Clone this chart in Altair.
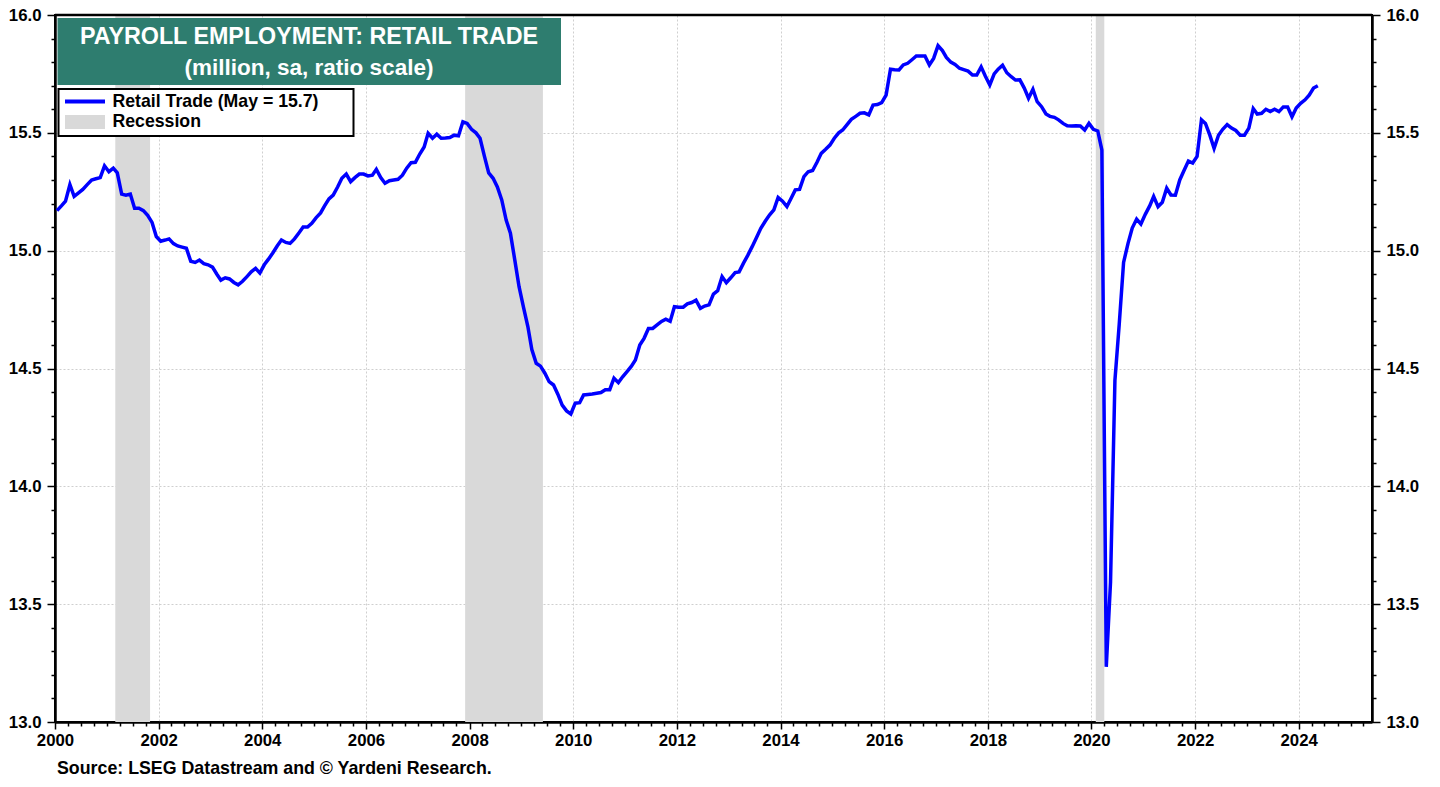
import altair as alt
import pandas as pd

# Retail trade payroll employment, million, monthly from Jan 2000 to May 2024
retail_2000_2004 = [
    15.17, 15.19, 15.21, 15.28, 15.23, 15.245, 15.26, 15.28, 15.30, 15.305, 15.31, 15.36,
    15.335, 15.35, 15.33, 15.24, 15.235, 15.24, 15.18, 15.18, 15.17, 15.15, 15.12, 15.06,
    15.04, 15.045, 15.05, 15.03, 15.02, 15.015, 15.01, 14.955, 14.95, 14.96, 14.945, 14.94,
    14.93, 14.90, 14.875, 14.885, 14.88, 14.865, 14.855, 14.87, 14.89, 14.91, 14.925, 14.905,
    14.94, 14.965, 14.99, 15.02, 15.045, 15.035, 15.031, 15.05, 15.075, 15.10, 15.10, 15.116,
]
retail_2005_2009 = [
    15.14, 15.16, 15.19, 15.22, 15.236, 15.27, 15.307, 15.325, 15.293, 15.31, 15.325, 15.325,
    15.317, 15.32, 15.345, 15.31, 15.286, 15.297, 15.30, 15.303, 15.32, 15.35, 15.373, 15.375,
    15.41, 15.44, 15.498, 15.477, 15.494, 15.477, 15.478, 15.48, 15.49, 15.487, 15.547, 15.54,
    15.515, 15.50, 15.477, 15.40, 15.33, 15.307, 15.27, 15.215, 15.13, 15.074, 14.96, 14.847,
    14.76, 14.678, 14.58, 14.522, 14.51, 14.48, 14.444, 14.43, 14.39, 14.345, 14.32, 14.307,
]
retail_2010_2014 = [
    14.353, 14.355, 14.388, 14.39, 14.392, 14.395, 14.398, 14.41, 14.41, 14.459, 14.44, 14.465,
    14.487, 14.51, 14.536, 14.60, 14.628, 14.67, 14.67, 14.685, 14.70, 14.709, 14.70, 14.762,
    14.76, 14.76, 14.774, 14.78, 14.79, 14.755, 14.765, 14.77, 14.816, 14.83, 14.89, 14.864,
    14.885, 14.907, 14.91, 14.947, 14.98, 15.017, 15.055, 15.095, 15.125, 15.151, 15.173, 15.226,
    15.21, 15.187, 15.22, 15.258, 15.26, 15.314, 15.335, 15.34, 15.375, 15.413, 15.43, 15.448,
]
retail_2015_2019 = [
    15.477, 15.50, 15.512, 15.535, 15.557, 15.57, 15.583, 15.585, 15.576, 15.618, 15.62, 15.628,
    15.66, 15.77, 15.768, 15.767, 15.788, 15.795, 15.81, 15.826, 15.826, 15.826, 15.788, 15.816,
    15.87, 15.849, 15.82, 15.80, 15.79, 15.774, 15.768, 15.762, 15.745, 15.745, 15.78, 15.74,
    15.703, 15.75, 15.77, 15.787, 15.755, 15.738, 15.724, 15.725, 15.69, 15.647, 15.685, 15.632,
    15.611, 15.58, 15.57, 15.566, 15.555, 15.54, 15.53, 15.529, 15.53, 15.529, 15.512, 15.54,
]
retail_2020_2024 = [
    15.515, 15.508, 15.427, 13.234, 13.594, 14.45, 14.685, 14.95, 15.03, 15.096, 15.134, 15.113,
    15.154, 15.19, 15.23, 15.187, 15.205, 15.265, 15.236, 15.235, 15.30, 15.34, 15.38, 15.372,
    15.40, 15.555, 15.54, 15.49, 15.434, 15.49, 15.515, 15.535, 15.52, 15.51, 15.49, 15.49,
    15.52, 15.603, 15.58, 15.583, 15.60, 15.59, 15.60, 15.59, 15.61, 15.61, 15.568, 15.605,
    15.625, 15.64, 15.66, 15.69, 15.70,
]

recession_start = ["2001-03-01", "2007-12-01", "2020-02-01"]
recession_end = ["2001-11-01", "2009-06-01", "2020-04-01"]

title_lines = ["PAYROLL EMPLOYMENT: RETAIL TRADE", "(million, sa, ratio scale)"]
legend_labels = ["Retail Trade (May = 15.7)", "Recession"]
source_text = "Source: LSEG Datastream and \u00a9 Yardeni Research."

values = retail_2000_2004 + retail_2005_2009 + retail_2010_2014 + retail_2015_2019 + retail_2020_2024
dates = pd.date_range("2000-01-01", periods=len(values), freq="MS") + pd.Timedelta(days=14)
df = pd.DataFrame({"date": dates.strftime("%Y-%m-%dT00:00:00"), "value": values})
rec = pd.DataFrame({
    "start": [s + "T00:00:00" for s in recession_start],
    "end": [e + "T00:00:00" for e in recession_end],
})

FONT = "Liberation Sans"
BLUE = "#0000ff"
GRAY = "#d9d9d9"
TEAL = "#2e7d6f"
W, H = 1317, 707

x_ticks = [alt.DateTime(year=y, month=m, date=1)
           for y in range(2000, 2026) for m in (1, 4, 7, 10) if (y, m) <= (2025, 4)]
major_x = "month(datum.value) == 0 && year(datum.value) % 2 == 0"
x_scale = alt.Scale(domain=[alt.DateTime(year=2000, month=1, date=1),
                            alt.DateTime(year=2025, month=6, date=1)])
x_axis = alt.Axis(
    values=x_ticks, title=None,
    labelExpr=f"({major_x}) ? timeFormat(datum.value, '%Y') : ''",
    tickSize={"condition": {"test": major_x, "value": 7}, "value": 4},
    gridOpacity={"condition": {"test": major_x + " && year(datum.value) > 2000", "value": 1}, "value": 0},
    labelFlush=False, labelOverlap=False, labelPadding=3,
)

y_ticks = [round(13 + 0.1 * i, 1) for i in range(31)]
major_y = "abs(round(datum.value * 10) % 5) < 0.5"
y_scale = alt.Scale(domain=[13, 16], nice=False, zero=False)


def y_axis(orient, grid):
    return alt.Axis(
        values=y_ticks, title=None, orient=orient, grid=grid,
        labelExpr=f"({major_y}) ? format(datum.value, '.1f') : ''",
        tickSize={"condition": {"test": major_y, "value": 8}, "value": 4},
        gridOpacity={"condition": {"test": major_y + " && datum.value > 13.05 && datum.value < 15.95",
                                   "value": 1}, "value": 0},
        labelFlush=False, labelOverlap=False, labelPadding=6,
    )


recession = alt.Chart(rec).mark_rect(color=GRAY).encode(
    x=alt.X("start:T", scale=x_scale, axis=x_axis),
    x2="end:T",
)

line = alt.Chart(df).mark_line(color=BLUE, strokeWidth=3.5).encode(
    x=alt.X("date:T", scale=x_scale, axis=x_axis),
    y=alt.Y("value:Q", scale=y_scale, axis=y_axis("left", True)),
)

line_right = alt.Chart(df).mark_line(strokeOpacity=0).encode(
    x=alt.X("date:T", scale=x_scale, axis=x_axis),
    y=alt.Y("value:Q", scale=y_scale, axis=y_axis("right", False)),
)

one = pd.DataFrame({"k": [0]})

top_border = alt.Chart(one).mark_rule(color="black", strokeWidth=2.5).encode(
    x=alt.value(0), x2=alt.value(W), y=alt.value(0)
)

title_box = alt.Chart(one).mark_rect(color=TEAL).encode(
    x=alt.value(2.5), x2=alt.value(506), y=alt.value(3), y2=alt.value(70)
)
title_1 = alt.Chart(pd.DataFrame({"t": [title_lines[0]]})).mark_text(
    font=FONT, fontWeight="bold", fontSize=23.3, color="white", align="center", baseline="middle"
).encode(x=alt.value(254), y=alt.value(21.7), text="t:N")
title_2 = alt.Chart(pd.DataFrame({"t": [title_lines[1]]})).mark_text(
    font=FONT, fontWeight="bold", fontSize=22.5, color="white", align="center", baseline="middle"
).encode(x=alt.value(254), y=alt.value(53.3), text="t:N")

legend_box = alt.Chart(one).mark_rect(fill="white", stroke="black", strokeWidth=2).encode(
    x=alt.value(3.5), x2=alt.value(298.5), y=alt.value(74), y2=alt.value(121)
)
legend_line = alt.Chart(one).mark_rule(color=BLUE, strokeWidth=4).encode(
    x=alt.value(10), x2=alt.value(50), y=alt.value(86.5)
)
legend_patch = alt.Chart(one).mark_rect(color=GRAY).encode(
    x=alt.value(10), x2=alt.value(50), y=alt.value(100), y2=alt.value(114)
)
legend_df = pd.DataFrame({"t": legend_labels, "yy": [86.5, 107]})
legend_text = alt.Chart(legend_df).mark_text(
    font=FONT, fontWeight="bold", fontSize=17.7, color="black", align="left", baseline="middle"
).encode(x=alt.value(57.5), y=alt.Y("yy:Q", scale=None), text="t:N")

source = alt.Chart(pd.DataFrame({"t": [source_text]})).mark_text(
    font=FONT, fontWeight="bold", fontSize=17.8, color="black", align="left", baseline="middle"
).encode(x=alt.value(2), y=alt.value(754), text="t:N")

chart = alt.layer(
    recession, line, line_right, top_border, title_box, title_1, title_2,
    legend_box, legend_line, legend_patch, legend_text, source,
).resolve_scale(y="independent").properties(
    width=W, height=H,
    padding={"left": 47, "top": 7, "right": 60, "bottom": 58},
    autosize=alt.AutoSizeParams(type="none"),
    background="white",
).configure_view(
    stroke="black", strokeWidth=2
).configure_axis(
    domainColor="black", domainWidth=2.5, tickColor="black", tickWidth=1.5,
    labelFont=FONT, labelFontWeight="bold", labelFontSize=16.8, labelColor="black",
    gridColor="#cfcfcf", gridDash=[2, 2], gridWidth=1,
)

chart.save("out.html", embed_options={"renderer": "svg", "actions": False})
